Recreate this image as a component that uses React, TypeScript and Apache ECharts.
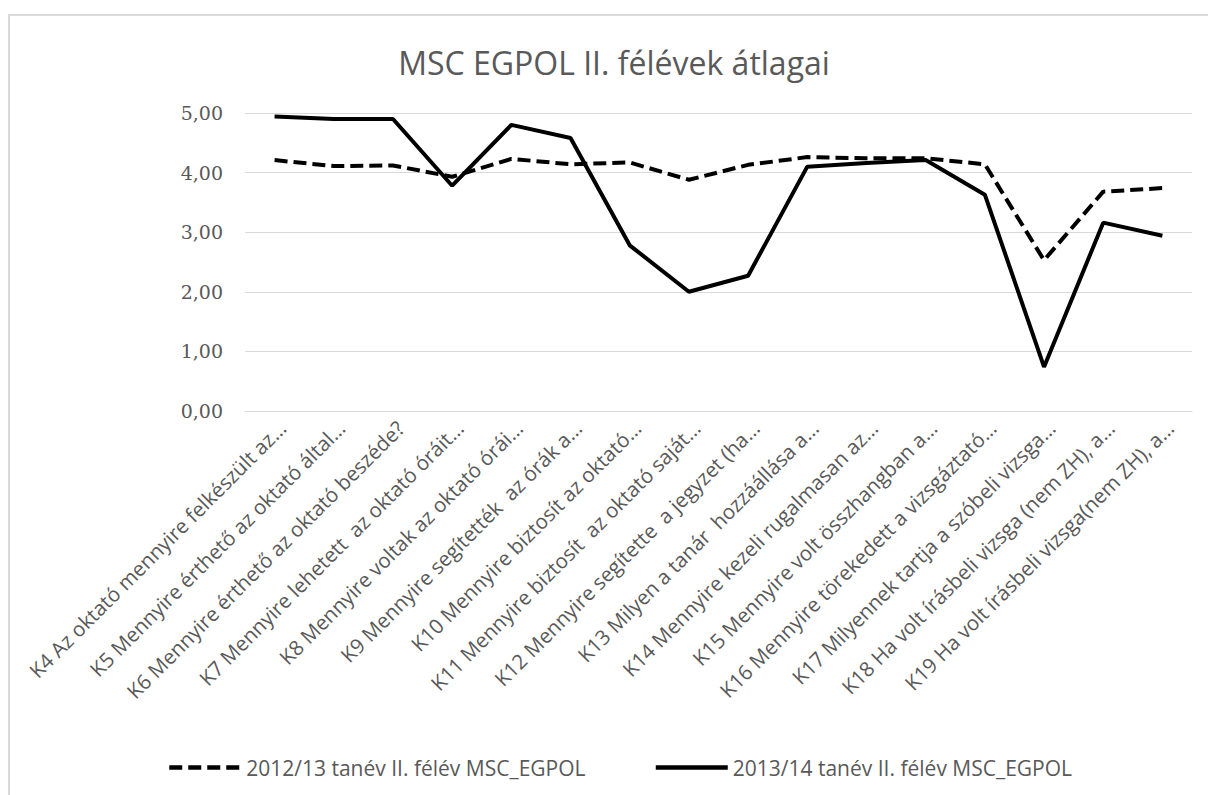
import { useEffect, useRef } from "react";
import * as echarts from "echarts";

const chartTitle = "MSC EGPOL II. félévek átlagai";

const categories = [
  "K4 Az oktató mennyire felkészült az…",
  "K5 Mennyire érthető az oktató által…",
  "K6 Mennyire érthető az oktató beszéde?",
  "K7 Mennyire lehetett  az oktató óráit…",
  "K8 Mennyire voltak az oktató órái…",
  "K9 Mennyire segítették  az órák a…",
  "K10 Mennyire biztosít az oktató…",
  "K11 Mennyire biztosít  az oktató saját…",
  "K12 Mennyire segítette  a jegyzet (ha…",
  "K13 Milyen a tanár  hozzáállása a…",
  "K14 Mennyire kezeli rugalmasan az…",
  "K15 Mennyire volt összhangban a…",
  "K16 Mennyire törekedett a vizsgáztató…",
  "K17 Milyennek tartja a szóbeli vizsga…",
  "K18 Ha volt írásbeli vizsga (nem ZH), a…",
  "K19 Ha volt írásbeli vizsga(nem ZH), a…",
];

const seriesNames = [
  "2012/13 tanév II. félév MSC_EGPOL",
  "2013/14 tanév II. félév MSC_EGPOL",
];

const values2012 = [4.21, 4.11, 4.12, 3.93, 4.23, 4.14, 4.17, 3.88, 4.13, 4.26, 4.24, 4.24, 4.14, 2.53, 3.68, 3.74];
const values2013 = [4.94, 4.9, 4.9, 3.78, 4.8, 4.58, 2.78, 2.0, 2.27, 4.1, 4.16, 4.21, 3.63, 0.74, 3.16, 2.94];

const yMin = 0;
const yMax = 5;
const yInterval = 1;

const SANS = "'Open Sans', 'Noto Sans', sans-serif";
const GREY = "#595959";

export default function App() {
  const ref = useRef<HTMLDivElement>(null);

  useEffect(() => {
    if (!ref.current) return;
    const chart = echarts.init(ref.current, undefined, { renderer: "svg" });
    chart.setOption({
      animation: false,
      backgroundColor: "#ffffff",
      graphic: [
        {
          type: "rect",
          shape: { x: 9, y: 15, width: 1240, height: 820 },
          style: { fill: "none", stroke: "#d9d9d9", lineWidth: 2 },
          silent: true,
        },
        {
          type: "text",
          x: 614,
          y: 62,
          style: {
            text: chartTitle,
            textAlign: "center",
            textVerticalAlign: "middle",
            fontSize: 32,
            fontFamily: SANS,
            fill: GREY,
          },
        },
      ],
      grid: { left: 245, right: 16, top: 113, bottom: 384, containLabel: false },
      legend: {
        left: 162,
        top: 752,
        itemWidth: 72,
        itemHeight: 14,
        itemGap: 68,
        data: seriesNames,
        itemStyle: { opacity: 0 },
        lineStyle: { width: 4.5 },
        textStyle: { fontSize: 21, fontFamily: SANS, color: GREY },
      },
      xAxis: {
        type: "category",
        data: categories,
        boundaryGap: true,
        axisLine: { lineStyle: { color: "#d9d9d9", width: 1 } },
        axisTick: { show: false },
        axisLabel: {
          interval: 0,
          rotate: 45,
          verticalAlign: "top",
          margin: 6,
          fontSize: 20.5,
          fontFamily: SANS,
          color: GREY,
        },
      },
      yAxis: {
        type: "value",
        min: yMin,
        max: yMax,
        interval: yInterval,
        axisLine: { show: false },
        axisTick: { show: false },
        splitLine: { lineStyle: { color: "#d9d9d9", width: 1 } },
        axisLabel: {
          margin: 22,
          fontSize: 19,
          fontFamily: "'DejaVu Serif', serif",
          color: GREY,
          formatter: (v: number) => v.toFixed(2).replace(".", ","),
        },
      },
      series: [
        {
          name: seriesNames[0],
          type: "line",
          data: values2012,
          symbol: "none",
          showSymbol: false,
          lineStyle: { color: "#000000", width: 4, type: [13, 6] },
          itemStyle: { color: "#000000" },
        },
        {
          name: seriesNames[1],
          type: "line",
          data: values2013,
          symbol: "none",
          showSymbol: false,
          lineStyle: { color: "#000000", width: 4 },
          itemStyle: { color: "#000000" },
        },
      ],
    });
    return () => chart.dispose();
  }, []);

  return (
    <div
      ref={ref}
      style={{ position: "fixed", left: 0, top: 0, width: 1208, height: 795 }}
    />
  );
}
